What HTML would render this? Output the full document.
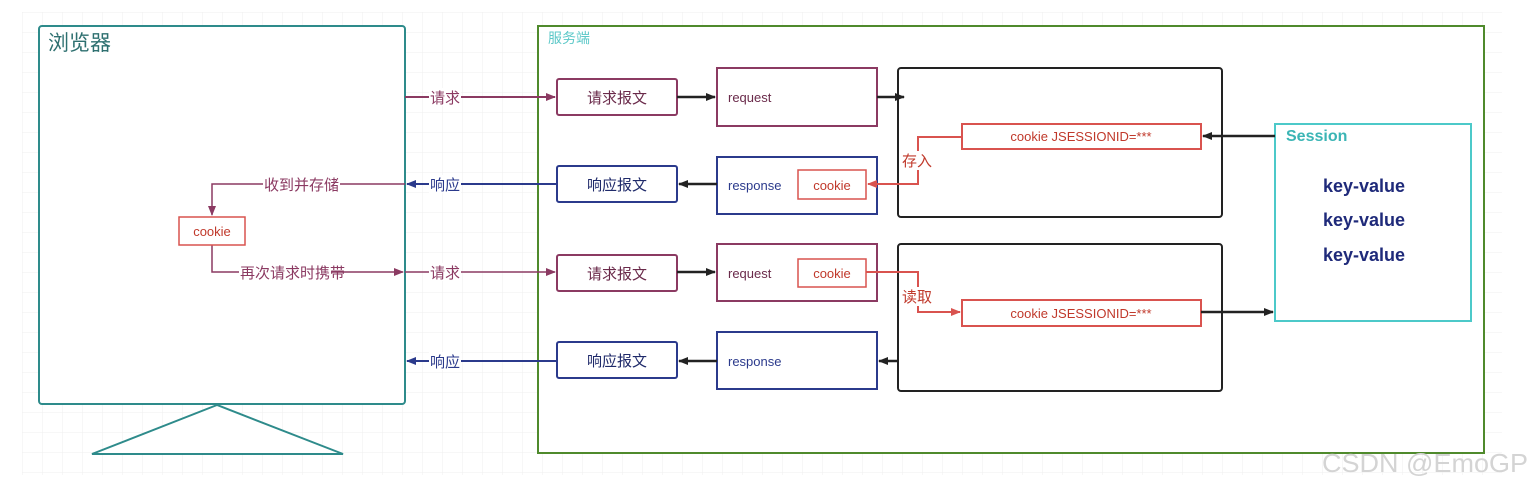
<!DOCTYPE html>
<html><head><meta charset="utf-8"><style>
html,body{margin:0;padding:0;background:#fff;width:1533px;height:489px;overflow:hidden}
svg text{font-family:"Liberation Sans","Noto Sans CJK SC",sans-serif}
</style></head><body>
<svg width="1533" height="489" viewBox="0 0 1533 489" xmlns="http://www.w3.org/2000/svg">
<defs>
<pattern id="g" width="20" height="20" patternUnits="userSpaceOnUse" x="22" y="12">
<path d="M20 0H0V20" fill="none" stroke="#efefef" stroke-width="1"/></pattern>
<marker id="am" markerWidth="10" markerHeight="10" refX="9" refY="5" orient="auto" markerUnits="userSpaceOnUse"><path d="M0,1 L10,5 L0,9 Z" fill="#8b3a62"/></marker>
<marker id="ab" markerWidth="10" markerHeight="10" refX="9" refY="5" orient="auto" markerUnits="userSpaceOnUse"><path d="M0,1 L10,5 L0,9 Z" fill="#2b3a8c"/></marker>
<marker id="ak" markerWidth="10" markerHeight="10" refX="9" refY="5" orient="auto" markerUnits="userSpaceOnUse"><path d="M0,1 L10,5 L0,9 Z" fill="#222"/></marker>
<marker id="ar" markerWidth="10" markerHeight="10" refX="9" refY="5" orient="auto" markerUnits="userSpaceOnUse"><path d="M0,1 L10,5 L0,9 Z" fill="#d9534f"/></marker>
</defs>
<rect x="22" y="12" width="1480" height="463" fill="url(#g)"/>

<rect x="39" y="26" width="366" height="378" rx="3" fill="#fff" stroke="#2e8b8b" stroke-width="2"/>
<text x="48" y="50" font-size="21" fill="#2e7070">浏览器</text>
<polygon points="217,405 92,454 343,454" fill="#fff" stroke="#2e8b8b" stroke-width="2"/>

<rect x="538" y="26" width="946" height="427" fill="#fff" stroke="#4f8a2c" stroke-width="2"/>
<text x="548" y="43" font-size="14" fill="#5cc8c8">服务端</text>

<g font-size="15">
<line x1="405" y1="97" x2="555" y2="97" stroke="#8b3a62" stroke-width="2" marker-end="url(#am)"/>
<rect x="429" y="88" width="32" height="18" fill="#fff"/><text x="430" y="103" fill="#8b3a62">请求</text>
<line x1="557" y1="184" x2="407" y2="184" stroke="#2b3a8c" stroke-width="2" marker-end="url(#ab)"/>
<rect x="429" y="175" width="32" height="18" fill="#fff"/><text x="430" y="190" fill="#2b3a8c">响应</text>
<line x1="405" y1="272" x2="555" y2="272" stroke="#8b3a62" stroke-width="1.5" marker-end="url(#am)"/>
<rect x="429" y="263" width="32" height="18" fill="#fff"/><text x="430" y="278" fill="#8b3a62">请求</text>
<line x1="557" y1="361" x2="407" y2="361" stroke="#2b3a8c" stroke-width="2" marker-end="url(#ab)"/>
<rect x="429" y="352" width="32" height="18" fill="#fff"/><text x="430" y="367" fill="#2b3a8c">响应</text>

<polyline points="405,184 212,184 212,215" fill="none" stroke="#8b3a62" stroke-width="1.5" marker-end="url(#am)"/>
<rect x="263" y="175" width="77" height="18" fill="#fff"/><text x="264" y="190" fill="#8b3a62">收到并存储</text>
<polyline points="212,245 212,272 403,272" fill="none" stroke="#8b3a62" stroke-width="1.5" marker-end="url(#am)"/>
<rect x="239" y="263" width="92" height="18" fill="#fff"/><text x="240" y="278" fill="#8b3a62" font-size="15">再次请求时携带</text>
</g>
<rect x="179" y="217" width="66" height="28" fill="#fff" stroke="#d9534f" stroke-width="1.5"/>
<text x="212" y="236" font-size="13" fill="#c0392b" text-anchor="middle">cookie</text>

<g font-size="15" text-anchor="middle">
<rect x="557" y="79" width="120" height="36" rx="2" fill="#fff" stroke="#8b3a62" stroke-width="2"/><text x="617" y="103" fill="#6a2a4a">请求报文</text>
<rect x="557" y="166" width="120" height="36" rx="2" fill="#fff" stroke="#2b3a8c" stroke-width="2"/><text x="617" y="190" fill="#1f2a6a">响应报文</text>
<rect x="557" y="255" width="120" height="36" rx="2" fill="#fff" stroke="#8b3a62" stroke-width="2"/><text x="617" y="279" fill="#6a2a4a">请求报文</text>
<rect x="557" y="342" width="120" height="36" rx="2" fill="#fff" stroke="#2b3a8c" stroke-width="2"/><text x="617" y="366" fill="#1f2a6a">响应报文</text>
</g>

<g font-size="13">
<rect x="717" y="68" width="160" height="58" fill="#fff" stroke="#8b3a62" stroke-width="2"/><text x="728" y="102" fill="#6a2a4a">request</text>
<rect x="717" y="157" width="160" height="57" fill="#fff" stroke="#2b3a8c" stroke-width="2"/><text x="728" y="190" fill="#2b3a8c">response</text>
<rect x="798" y="170" width="68" height="29" fill="#fff" stroke="#d9534f" stroke-width="1.5"/><text x="832" y="190" fill="#c0392b" text-anchor="middle">cookie</text>
<rect x="717" y="244" width="160" height="57" fill="#fff" stroke="#8b3a62" stroke-width="2"/><text x="728" y="278" fill="#6a2a4a">request</text>
<rect x="798" y="259" width="68" height="28" fill="#fff" stroke="#d9534f" stroke-width="1.5"/><text x="832" y="278" fill="#c0392b" text-anchor="middle">cookie</text>
<rect x="717" y="332" width="160" height="57" fill="#fff" stroke="#2b3a8c" stroke-width="2"/><text x="728" y="366" fill="#2b3a8c">response</text>
</g>

<g stroke="#222" stroke-width="2.5">
<line x1="677" y1="97" x2="715" y2="97" marker-end="url(#ak)"/>
<line x1="717" y1="184" x2="679" y2="184" marker-end="url(#ak)"/>
<line x1="677" y1="272" x2="715" y2="272" marker-end="url(#ak)"/>
<line x1="717" y1="361" x2="679" y2="361" marker-end="url(#ak)"/>
<line x1="877" y1="97" x2="904" y2="97" marker-end="url(#ak)"/>
<line x1="898" y1="361" x2="879" y2="361" marker-end="url(#ak)"/>
</g>

<rect x="898" y="68" width="324" height="149" rx="3" fill="none" stroke="#222" stroke-width="2"/>
<rect x="898" y="244" width="324" height="147" rx="3" fill="none" stroke="#222" stroke-width="2"/>
<g font-size="13" fill="#c0392b">
<rect x="962" y="124" width="239" height="25" fill="#fff" stroke="#d9534f" stroke-width="2"/><text x="1081" y="141" text-anchor="middle">cookie   JSESSIONID=***</text>
<rect x="962" y="300" width="239" height="26" fill="#fff" stroke="#d9534f" stroke-width="2"/><text x="1081" y="318" text-anchor="middle">cookie   JSESSIONID=***</text>
</g>
<polyline points="962,137 918,137 918,184 868,184" fill="none" stroke="#d9534f" stroke-width="2" marker-end="url(#ar)"/>
<rect x="901" y="151" width="34" height="19" fill="#fff"/><text x="902" y="166" font-size="15" fill="#c0392b">存入</text>
<polyline points="866,272 918,272 918,312 960,312" fill="none" stroke="#d9534f" stroke-width="2" marker-end="url(#ar)"/>
<rect x="901" y="287" width="34" height="19" fill="#fff"/><text x="902" y="302" font-size="15" fill="#c0392b">读取</text>

<rect x="1275" y="124" width="196" height="197" fill="#fff" stroke="#4cc9c9" stroke-width="2"/>
<text x="1286" y="141" font-size="16" font-weight="bold" fill="#3bb5b5">Session</text>
<g font-size="18" font-weight="bold" fill="#1f2a7a" text-anchor="middle">
<text x="1364" y="192">key-value</text>
<text x="1364" y="226">key-value</text>
<text x="1364" y="261">key-value</text>
</g>
<line x1="1275" y1="136" x2="1203" y2="136" stroke="#222" stroke-width="2.5" marker-end="url(#ak)"/>
<line x1="1201" y1="312" x2="1273" y2="312" stroke="#222" stroke-width="2.5" marker-end="url(#ak)"/>

<text x="1322" y="472" font-size="26" fill="#d4d4d4" textLength="206" lengthAdjust="spacingAndGlyphs">CSDN @EmoGP</text>
</svg>
</body></html>
